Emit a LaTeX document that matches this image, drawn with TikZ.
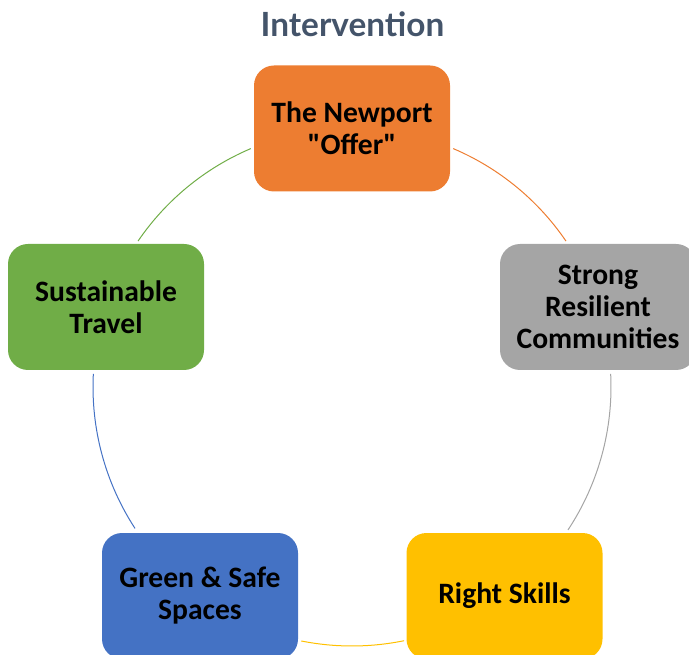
\documentclass[tikz,border=0pt]{standalone}
\usepackage{fontspec}
\usetikzlibrary{calc}
\setmainfont{Carlito}[Ligatures=TeXOff]
\newfontfamily\titlefont{Lato}
\definecolor{cOrange}{HTML}{ED7D31}
\definecolor{cGrey}{HTML}{A5A5A5}
\definecolor{cYellow}{HTML}{FFC000}
\definecolor{cBlue}{HTML}{4472C4}
\definecolor{cGreen}{HTML}{70AD47}
\definecolor{cTitle}{HTML}{44546A}
\begin{document}
\begin{tikzpicture}[x=0.75pt,y=0.75pt,
  box/.style={rounded corners=15pt, minimum width=147pt, minimum height=94.5pt,
    align=center, inner sep=0pt, font=\fontsize{22.2}{24}\selectfont\bfseries, text=black},
  ring/.style={line width=0.75pt}]
\useasboundingbox (0,0) rectangle (689,654);
\clip (0,0) rectangle (689,654);
\coordinate (O) at (352,267);
\node[anchor=base, text=cTitle, font=\titlefont\fontsize{25}{28}\selectfont\bfseries] (title) at (352.5,617) {Intervention};
\node[box, fill=cOrange] (offer) at (352,525.5) {The Newport\\"Offer"};
\node[box, fill=cGrey] (strong) at (598,347) {Strong\\Resilient\\Communities};
\node[box, fill=cYellow] (skills) at (504.5,58) {Right Skills};
\node[box, fill=cBlue] (green) at (200,58) {Green \& Safe\\Spaces};
\node[box, fill=cGreen] (travel) at (106,347) {Sustainable\\Travel};
\coordinate (g1) at ($(O)+(145.7:259)$);
\coordinate (o1) at ($(O)+(67:259)$);
\coordinate (s1) at ($(O)+(2.9:259)$);
\coordinate (y1) at ($(O)+(-78.4:259)$);
\coordinate (b1) at ($(O)+(213.1:259)$);
\draw[ring, cGreen] (g1) arc[start angle=145.7, end angle=113, radius=259];
\draw[ring, cOrange] (o1) arc[start angle=67, end angle=34.3, radius=259];
\draw[ring, cGrey] (s1) arc[start angle=2.9, end angle=-33.5, radius=259];
\draw[ring, cYellow] (y1) arc[start angle=-78.4, end angle=-101.3, radius=259];
\draw[ring, cBlue] (b1) arc[start angle=213.1, end angle=177.1, radius=259];
\end{tikzpicture}
\end{document}
